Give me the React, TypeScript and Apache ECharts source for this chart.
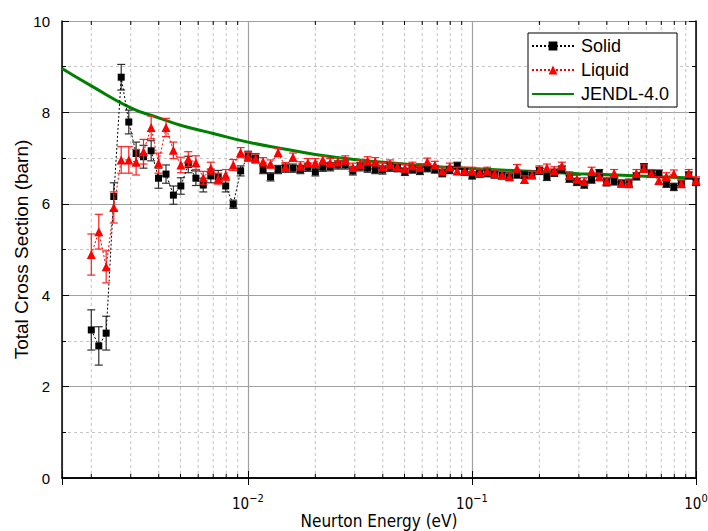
import React, { useEffect, useRef } from "react";
import * as echarts from "echarts";

const energy = [
  0.00200, 0.00216, 0.00233, 0.00252, 0.00272, 0.00294, 0.00317, 0.00342, 0.00370, 0.00399,
  0.00431, 0.00465, 0.00502, 0.00542, 0.00586, 0.00632, 0.00683, 0.00737, 0.00796, 0.00860,
  0.00928, 0.01002, 0.01082, 0.01169, 0.01262, 0.01363, 0.01471, 0.01589, 0.01715, 0.01852,
  0.0200, 0.0216, 0.0233, 0.0252, 0.0272, 0.0294, 0.0317, 0.0342, 0.0370, 0.0399,
  0.0431, 0.0465, 0.0502, 0.0542, 0.0586, 0.0632, 0.0683, 0.0737, 0.0796, 0.0860,
  0.0928, 0.1002, 0.1082, 0.1169, 0.1262, 0.1363, 0.1471, 0.1589, 0.1715, 0.1852,
  0.200, 0.216, 0.233, 0.252, 0.272, 0.294, 0.317, 0.342, 0.370, 0.399,
  0.431, 0.465, 0.502, 0.542, 0.586, 0.632, 0.683, 0.737, 0.796, 0.860,
  0.928, 1.000,
];

const solid = [
  3.24, 2.89, 3.17, 6.16, 8.77, 7.79, 7.10, 7.03, 7.16, 6.56,
  6.65, 6.19, 6.39, 6.86, 6.56, 6.41, 6.61, 6.59, 6.39, 5.99,
  6.72, 7.05, 7.00, 6.75, 6.59, 6.75, 6.78, 6.78, 6.75, 6.80,
  6.70, 6.80, 6.81, 6.85, 6.85, 6.72, 6.81, 6.78, 6.75, 6.74,
  6.80, 6.78, 6.70, 6.75, 6.72, 6.78, 6.75, 6.67, 6.74, 6.83,
  6.70, 6.62, 6.66, 6.67, 6.64, 6.62, 6.60, 6.64, 6.63, 6.64,
  6.72, 6.59, 6.68, 6.75, 6.55, 6.48, 6.42, 6.53, 6.67, 6.47,
  6.49, 6.45, 6.46, 6.60, 6.80, 6.66, 6.66, 6.44, 6.37, 6.44,
  6.62, 6.48,
];

const solidErr = [
  0.44, 0.42, 0.37, 0.30, 0.28, 0.26, 0.25, 0.25, 0.22, 0.22,
  0.20, 0.20, 0.18, 0.18, 0.16, 0.15, 0.15, 0.14, 0.13, 0.09,
  0.11, 0.10, 0.10, 0.09, 0.09, 0.09, 0.09, 0.09, 0.09, 0.09,
  0.09, 0.09, 0.09, 0.09, 0.09, 0.09, 0.09, 0.09, 0.09, 0.09,
  0.09, 0.08, 0.08, 0.08, 0.08, 0.08, 0.08, 0.08, 0.08, 0.08,
  0.08, 0.08, 0.08, 0.08, 0.08, 0.08, 0.08, 0.08, 0.08, 0.08,
  0.08, 0.08, 0.08, 0.08, 0.08, 0.08, 0.08, 0.08, 0.08, 0.08,
  0.08, 0.08, 0.08, 0.08, 0.08, 0.08, 0.08, 0.08, 0.08, 0.08,
  0.08, 0.08,
];

const liquid = [
  4.89, 5.39, 4.62, 5.92, 6.96, 6.96, 6.91, 7.14, 7.67, 6.89,
  7.67, 7.17, 6.85, 6.98, 6.90, 6.57, 6.78, 6.55, 6.63, 6.85,
  7.12, 7.03, 6.99, 6.92, 6.87, 7.12, 6.81, 7.02, 6.83, 6.90,
  6.90, 6.96, 6.90, 6.92, 6.96, 6.80, 6.87, 6.94, 6.92, 6.81,
  6.87, 6.81, 6.78, 6.83, 6.80, 6.92, 6.85, 6.72, 6.81, 6.72,
  6.72, 6.72, 6.68, 6.72, 6.66, 6.63, 6.59, 6.78, 6.53, 6.63,
  6.75, 6.79, 6.73, 6.83, 6.62, 6.54, 6.49, 6.72, 6.59, 6.50,
  6.67, 6.45, 6.44, 6.67, 6.77, 6.67, 6.51, 6.60, 6.66, 6.44,
  6.67, 6.51,
];

const liquidErr = [
  0.45, 0.38, 0.35, 0.34, 0.29, 0.29, 0.28, 0.27, 0.25, 0.22,
  0.20, 0.18, 0.17, 0.16, 0.15, 0.14, 0.13, 0.12, 0.12, 0.12,
  0.11, 0.10, 0.10, 0.09, 0.09, 0.09, 0.09, 0.09, 0.09, 0.09,
  0.09, 0.09, 0.09, 0.09, 0.09, 0.09, 0.09, 0.09, 0.09, 0.09,
  0.09, 0.08, 0.08, 0.08, 0.08, 0.08, 0.08, 0.08, 0.08, 0.08,
  0.08, 0.08, 0.08, 0.08, 0.08, 0.08, 0.08, 0.08, 0.08, 0.08,
  0.08, 0.08, 0.08, 0.08, 0.08, 0.08, 0.08, 0.08, 0.08, 0.08,
  0.08, 0.08, 0.08, 0.08, 0.08, 0.08, 0.08, 0.08, 0.08, 0.08,
  0.08, 0.08,
];

const jendlEnergy = [0.00148, 0.002, 0.003, 0.004, 0.005, 0.007, 0.01, 0.015, 0.02, 0.03, 0.05, 0.07, 0.1, 0.2, 0.3, 0.5, 0.7, 1.0];
const jendlSigma = [8.96, 8.58, 8.10, 7.88, 7.72, 7.54, 7.35, 7.19, 7.08, 6.97, 6.87, 6.81, 6.77, 6.70, 6.66, 6.62, 6.59, 6.56];

const minorX = [
  0.002, 0.003, 0.004, 0.005, 0.006, 0.007, 0.008, 0.009,
  0.02, 0.03, 0.04, 0.05, 0.06, 0.07, 0.08, 0.09,
  0.2, 0.3, 0.4, 0.5, 0.6, 0.7, 0.8, 0.9,
];

const X_MIN = 0.00148;
const X_MAX = 1;
const Y_TICKS = [0, 2, 4, 6, 8, 10];

const ARIAL = "'Liberation Sans', Arial, sans-serif";
const NARROW = "'Liberation Sans Narrow', 'DejaVu Sans Condensed', sans-serif";

function errRender(color: string) {
  return (params: any, api: any) => {
    const x = api.value(0);
    const lo = api.value(1);
    const hi = api.value(2);
    const p1 = api.coord([x, lo]);
    const p2 = api.coord([x, hi]);
    const w = 4;
    const st = { stroke: color, lineWidth: 1.2 };
    return {
      type: "group",
      children: [
        { type: "line", shape: { x1: p1[0], y1: p1[1], x2: p2[0], y2: p2[1] }, style: st },
        { type: "line", shape: { x1: p1[0] - w, y1: p1[1], x2: p1[0] + w, y2: p1[1] }, style: st },
        { type: "line", shape: { x1: p2[0] - w, y1: p2[1], x2: p2[0] + w, y2: p2[1] }, style: st },
      ],
    };
  };
}

export default function App() {
  const ref = useRef<HTMLDivElement>(null);
  useEffect(() => {
    if (!ref.current) return;
    const chart = echarts.init(ref.current, null, { renderer: "svg" });

    const solidData = energy.map((e, i) => [e, solid[i]]);
    const liquidData = energy.map((e, i) => [e, liquid[i]]);
    const solidErrData = energy.map((e, i) => [e, solid[i] - solidErr[i], solid[i] + solidErr[i]]);
    const liquidErrData = energy.map((e, i) => [e, liquid[i] - liquidErr[i], liquid[i] + liquidErr[i]]);
    const jendlData = jendlEnergy.map((e, i) => [e, jendlSigma[i]]);

    const isPow10 = (v: number) => Math.abs(Math.log10(v) - Math.round(Math.log10(v))) < 1e-6;

    const option: any = {
      animation: false,
      backgroundColor: "#fff",
      grid: { left: 62, right: 12, top: 21, bottom: 53, containLabel: false, outerBoundsMode: "none" },
      legend: {
        left: 528,
        top: 33,
        orient: "vertical",
        itemGap: 6,
        itemWidth: 42,
        itemHeight: 11,
        padding: [4, 8, 4, 3],
        borderColor: "#000",
        borderWidth: 1,
        backgroundColor: "#fff",
        data: [
          { name: "Solid" },
          { name: "Liquid" },
          { name: "JENDL-4.0", itemStyle: { opacity: 0 } },
        ],
        textStyle: { fontSize: 18, fontFamily: ARIAL, color: "#000", padding: [0, 0, 0, 2] },
      },
      xAxis: [
        {
          type: "log",
          logBase: 10,
          min: X_MIN,
          max: X_MAX,
          name: "Neurton Energy (eV)",
          nameLocation: "middle",
          nameGap: 34,
          nameMoveOverlap: false,
          nameTextStyle: { fontSize: 17, fontFamily: NARROW, color: "#000" },
          axisLine: { show: true, lineStyle: { color: "#000", width: 1.5 } },
          axisTick: { show: true, inside: true, length: 7, lineStyle: { color: "#000", width: 1 } },
          axisLabel: {
            margin: 15,
            formatter: (v: number) => {
              if (!isPow10(v)) return "";
              const ex = Math.round(Math.log10(v));
              const s = ex < 0 ? "\u2212" + Math.abs(ex) : String(ex);
              return "{a|10}{b|" + s + "}";
            },
            rich: {
              a: { fontSize: 15, fontFamily: NARROW, color: "#000", lineHeight: 18, verticalAlign: "bottom" },
              b: { fontSize: 11, fontFamily: NARROW, color: "#000", lineHeight: 18, verticalAlign: "top", padding: [0, 0, 8, 0] },
            },
          },
          splitLine: { show: true, lineStyle: { color: "#a0a0a0", width: 1.2 } },
        },
        {
          type: "log",
          logBase: 10,
          min: X_MIN,
          max: X_MAX,
          position: "top",
          axisLine: { show: true, lineStyle: { color: "#000", width: 1.5 } },
          axisTick: { show: true, inside: true, length: 7, lineStyle: { color: "#000", width: 1 } },
          axisLabel: { show: false },
          splitLine: { show: false },
        },
      ],
      yAxis: [
        {
          type: "value",
          min: 0,
          max: 10,
          interval: 2,
          name: "Total Cross Section (barn)",
          nameLocation: "middle",
          nameGap: 31,
          nameMoveOverlap: false,
          nameTextStyle: { fontSize: 19, fontFamily: ARIAL, color: "#000" },
          axisLine: { show: true, lineStyle: { color: "#000", width: 1.5 } },
          axisTick: { show: true, inside: true, length: 7, lineStyle: { color: "#000", width: 1 } },
          minorTick: { show: true, splitNumber: 2, length: 4, lineStyle: { color: "#000", width: 1 } },
          axisLabel: {
            fontSize: 15,
            fontFamily: ARIAL,
            color: "#000",
            margin: 12,
            formatter: (v: number) => (Y_TICKS.includes(v) ? String(v) : ""),
          },
          splitLine: { show: true, lineStyle: { color: "#a0a0a0", width: 1.2 } },
          minorSplitLine: { show: true, lineStyle: { color: "#c4c4c4", width: 1, type: [3, 3] } },
        },
        {
          type: "value",
          min: 0,
          max: 10,
          interval: 2,
          position: "right",
          axisLine: { show: true, lineStyle: { color: "#000", width: 1.5 } },
          axisTick: { show: true, inside: true, length: 7, lineStyle: { color: "#000", width: 1 } },
          minorTick: { show: true, splitNumber: 2, length: 4, lineStyle: { color: "#000", width: 1 } },
          axisLabel: { show: false },
          splitLine: { show: false },
        },
      ],
      series: [
        {
          type: "custom",
          name: "minorGrid",
          xAxisIndex: 0,
          yAxisIndex: 0,
          silent: true,
          z: 0,
          data: minorX.map((x) => [x, 0]),
          encode: { x: 0, y: 1 },
          renderItem: (params: any, api: any) => {
            const x = api.value(0);
            const top = api.coord([x, 10]);
            const bot = api.coord([x, 0]);
            return {
              type: "group",
              children: [
                { type: "line", shape: { x1: top[0], y1: top[1], x2: bot[0], y2: bot[1] }, style: { stroke: "#c4c4c4", lineWidth: 1, lineDash: [3, 3] } },
                { type: "line", shape: { x1: bot[0], y1: bot[1], x2: bot[0], y2: bot[1] - 4 }, style: { stroke: "#000", lineWidth: 1 } },
                { type: "line", shape: { x1: top[0], y1: top[1], x2: top[0], y2: top[1] + 4 }, style: { stroke: "#000", lineWidth: 1 } },
              ],
            };
          },
        },
        {
          type: "line",
          name: "JENDL-4.0",
          data: jendlData,
          smooth: true,
          showSymbol: false,
          symbol: "none",
          lineStyle: { color: "#008000", width: 3 },
          itemStyle: { color: "#008000" },
          z: 2,
        },
        {
          type: "custom",
          name: "solidErr",
          data: solidErrData,
          encode: { x: 0, y: [1, 2] },
          renderItem: errRender("#303030"),
          z: 3,
        },
        {
          type: "line",
          name: "Solid",
          data: solidData,
          symbol: "rect",
          symbolSize: 7,
          showAllSymbol: true,
          lineStyle: { color: "#000", width: 1, type: [2, 2] },
          itemStyle: { color: "#000" },
          z: 4,
        },
        {
          type: "custom",
          name: "liquidErr",
          data: liquidErrData,
          encode: { x: 0, y: [1, 2] },
          renderItem: errRender("#ff2020"),
          z: 5,
        },
        {
          type: "line",
          name: "Liquid",
          data: liquidData,
          symbol: "triangle",
          symbolSize: 9,
          showAllSymbol: true,
          lineStyle: { color: "#ff0000", width: 1, type: [2, 2] },
          itemStyle: { color: "#ff0000" },
          z: 6,
        },
      ],
    };
    chart.setOption(option);
    return () => chart.dispose();
  }, []);
  return <div ref={ref} style={{ position: "absolute", left: 0, top: 0, width: 708, height: 531 }} />;
}
